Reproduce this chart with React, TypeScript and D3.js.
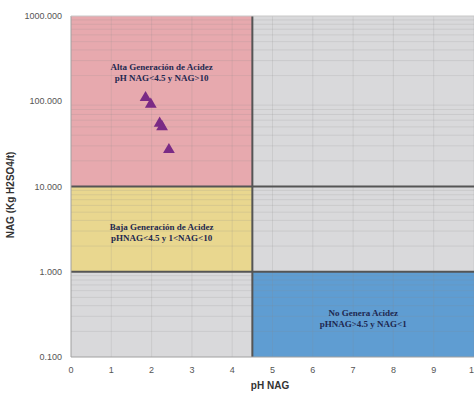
import { useEffect, useRef } from "react";
import * as d3 from "d3";

// region rectangles in data units (pH NAG, NAG)
const regionNames = ["alta", "baja", "gris1", "gris2", "no"];
const regionX0 = [0, 0, 0, 4.5, 4.5];
const regionX1 = [4.5, 4.5, 4.5, 10, 10];
const regionY0 = [10, 1, 0.1, 1, 0.1];
const regionY1 = [1000, 10, 1, 1000, 1];
const regionFill = ["#e7a9ae", "#e9d78f", "#d9d9db", "#d9d9db", "#5f9dd2"];

const labelLines = [
  ["Alta Generación de Acidez", "pH NAG<4.5 y NAG>10"],
  ["Baja Generación de Acidez", "pHNAG<4.5 y 1<NAG<10"],
  ["No Genera Acidez", "pHNAG>4.5 y NAG<1"],
];
const labelPh = [2.25, 2.25, 7.25];
const labelNag = [230, 3.1, 0.3];

const samplePh = [1.85, 1.98, 2.2, 2.26, 2.43];
const sampleNag = [110, 92, 55, 50, 27];

const yTicks = [0.1, 1, 10, 100, 1000];
const xTicks = [0, 1, 2, 3, 4, 5, 6, 7, 8, 9, 10];

export default function App() {
  const ref = useRef<SVGSVGElement>(null);

  useEffect(() => {
    if (!ref.current) return;
    const w = 474,
      h = 393,
      margin = { top: 16, right: 0, bottom: 36, left: 71 };

    const svg = d3.select(ref.current);
    svg.selectAll("*").remove();
    svg.attr("width", w).attr("height", h);

    const x = d3.scaleLinear().domain([0, 10]).range([margin.left, w - margin.right]);
    const y = d3.scaleLog().domain([0.1, 1000]).range([h - margin.bottom, margin.top]);

    svg.append("rect").attr("width", w).attr("height", h).attr("fill", "#fff");

    svg
      .selectAll("rect.region")
      .data(regionNames)
      .join("rect")
      .attr("class", "region")
      .attr("x", (_, i) => x(regionX0[i]))
      .attr("width", (_, i) => x(regionX1[i]) - x(regionX0[i]))
      .attr("y", (_, i) => y(regionY1[i]))
      .attr("height", (_, i) => y(regionY0[i]) - y(regionY1[i]))
      .attr("fill", (_, i) => regionFill[i]);

    // faint grid
    const g = svg.append("g").attr("stroke", "#8a8a8a").attr("stroke-opacity", 0.18).attr("stroke-width", 1);
    g.selectAll("line.v")
      .data(xTicks.slice(1))
      .join("line")
      .attr("x1", (d) => x(d))
      .attr("x2", (d) => x(d))
      .attr("y1", y(1000))
      .attr("y2", y(0.1));
    g.selectAll("line.h")
      .data(y.ticks().filter((d) => !yTicks.includes(d)))
      .join("line")
      .attr("class", "h")
      .attr("x1", x(0))
      .attr("x2", x(10))
      .attr("y1", (d) => y(d))
      .attr("y2", (d) => y(d));

    // boundary lines
    const b = svg.append("g").attr("stroke", "#555").attr("stroke-width", 2);
    b.append("line").attr("x1", x(0)).attr("x2", x(10)).attr("y1", y(10)).attr("y2", y(10));
    b.append("line").attr("x1", x(0)).attr("x2", x(10)).attr("y1", y(1)).attr("y2", y(1));
    b.append("line").attr("x1", x(4.5)).attr("x2", x(4.5)).attr("y1", y(1000)).attr("y2", y(0.1));

    // axis borders
    svg
      .append("line")
      .attr("x1", x(0))
      .attr("x2", x(0))
      .attr("y1", y(1000))
      .attr("y2", y(0.1))
      .attr("stroke", "#a0a0a0");
    svg
      .append("line")
      .attr("x1", x(0))
      .attr("x2", x(10))
      .attr("y1", y(0.1))
      .attr("y2", y(0.1))
      .attr("stroke", "#a0a0a0");
    svg
      .append("line")
      .attr("x1", x(0))
      .attr("x2", x(10))
      .attr("y1", y(1000))
      .attr("y2", y(1000))
      .attr("stroke", "#c8c8c8");

    // region labels
    labelLines.forEach((lines, i) => {
      const t = svg
        .append("text")
        .attr("x", x(labelPh[i]))
        .attr("y", y(labelNag[i]))
        .attr("text-anchor", "middle")
        .attr("fill", "#1e2850")
        .attr("font-family", "Liberation Serif, serif")
        .attr("font-weight", "bold")
        .attr("font-size", 9);
      lines.forEach((l, j) => {
        t.append("tspan").attr("x", x(labelPh[i])).attr("dy", j === 0 ? 0 : 11).text(l);
      });
    });

    // sample points
    svg
      .selectAll("path.pt")
      .data(samplePh)
      .join("path")
      .attr("class", "pt")
      .attr("transform", (d, i) => `translate(${x(d)},${y(sampleNag[i])})`)
      .attr("d", d3.symbol(d3.symbolTriangle, 60)())
      .attr("fill", "#7a2a85");

    // tick labels
    svg
      .selectAll("text.yt")
      .data(yTicks)
      .join("text")
      .attr("class", "yt")
      .attr("x", 62)
      .attr("y", (d) => y(d) + 3)
      .attr("text-anchor", "end")
      .attr("fill", "#555")
      .attr("font-family", "Liberation Sans, Arial, sans-serif")
      .attr("font-size", 9)
      .text((d) => d3.format(".3f")(d));

    svg
      .selectAll("text.xt")
      .data(xTicks)
      .join("text")
      .attr("class", "xt")
      .attr("x", (d) => x(d))
      .attr("y", 373)
      .attr("text-anchor", "middle")
      .attr("fill", "#555")
      .attr("font-family", "Liberation Sans, Arial, sans-serif")
      .attr("font-size", 9)
      .text((d) => d);

    svg
      .append("text")
      .attr("x", 270)
      .attr("y", 389)
      .attr("text-anchor", "middle")
      .attr("fill", "#333")
      .attr("font-family", "Liberation Sans, Arial, sans-serif")
      .attr("font-weight", "bold")
      .attr("font-size", 10)
      .text("pH NAG");

    svg
      .append("text")
      .attr("transform", "translate(14,195) rotate(-90)")
      .attr("text-anchor", "middle")
      .attr("fill", "#333")
      .attr("font-family", "Liberation Sans, Arial, sans-serif")
      .attr("font-weight", "bold")
      .attr("font-size", 10)
      .text("NAG (Kg H2SO4/t)");
  }, []);

  return <svg ref={ref} style={{ position: "absolute", left: 0, top: 0 }} />;
}
